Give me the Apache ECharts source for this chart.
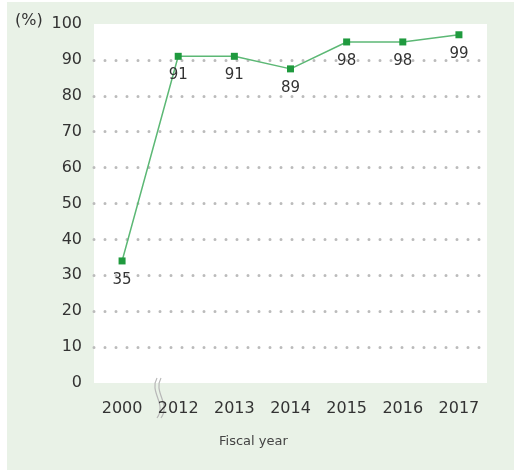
<!DOCTYPE html>
<html>
<head>
<meta charset="utf-8">
<script src="https://cdn.jsdelivr.net/npm/echarts@6/dist/echarts.min.js"></script>
<style>
  html, body { margin: 0; padding: 0; background: #fff; }
  #rate-chart { position: absolute; left: 7px; top: 2px; width: 507px; height: 468px; }
</style>
</head>
<body>
<div id="rate-chart"></div>
<script>
var rateChart = echarts.init(document.getElementById('rate-chart'));

// fiscal years shown on the x axis (gap between 2000 and 2012)
var years = ['2000', '2012', '2013', '2014', '2015', '2016', '2017'];
// where the markers sit in the picture
var plotValues = [34, 91, 91, 87.5, 95, 95, 97];
// the printed labels under each marker
var labelValues = [35, 91, 91, 89, 98, 98, 99];
var yTicks = [0, 10, 20, 30, 40, 50, 60, 70, 80, 90, 100];

var txtFont = 'DejaVu Sans';

option = {
    backgroundColor: '#e9f2e7',
    animation: false,
    grid: {
        show: true,
        left: 87,
        right: 27,
        top: 22,
        bottom: 87,
        backgroundColor: '#fff',
        borderWidth: 0
    },
    xAxis: {
        type: 'category',
        data: years,
        boundaryGap: true,
        axisLine: { show: false },
        axisTick: { show: false },
        axisLabel: {
            color: '#333',
            fontFamily: txtFont,
            fontSize: 16,
            margin: 18
        }
    },
    yAxis: {
        type: 'value',
        min: yTicks[0],
        max: yTicks[yTicks.length - 1],
        interval: 10,
        axisLine: { show: false },
        axisTick: { show: false },
        axisLabel: {
            color: '#333',
            fontFamily: txtFont,
            fontSize: 16,
            margin: 12
        },
        splitLine: {
            show: true,
            showMinLine: false,
            showMaxLine: false,
            lineStyle: {
                color: '#bbbbbb',
                width: 3,
                type: [0, 11],
                cap: 'round'
            }
        }
    },
    graphic: [
        {
            type: 'text',
            left: 8,
            top: 11,
            style: { text: '(%)', fill: '#333', font: '16px "DejaVu Sans"' }
        },
        {
            type: 'text',
            left: 212,
            top: 433,
            style: { text: 'Fiscal year', fill: '#444', font: '13px "DejaVu Sans"' }
        },
        // axis break marks between 2000 and 2012
        {
            type: 'bezierCurve',
            shape: { x1: 150, y1: 376, cpx1: 142, cpy1: 390, cpx2: 160, cpy2: 402, x2: 150, y2: 416 },
            style: { stroke: '#b8b8b8', lineWidth: 1.2, fill: null }
        },
        {
            type: 'bezierCurve',
            shape: { x1: 154, y1: 376, cpx1: 146, cpy1: 390, cpx2: 164, cpy2: 402, x2: 154, y2: 416 },
            style: { stroke: '#b8b8b8', lineWidth: 1.2, fill: null }
        }
    ],
    series: [{
        type: 'line',
        data: plotValues.map(function (v, i) {
            return { value: v, label: { formatter: String(labelValues[i]) } };
        }),
        symbol: 'rect',
        symbolSize: 7,
        lineStyle: { color: '#5cb875', width: 1.5 },
        itemStyle: { color: '#1f9a3e' },
        label: {
            show: true,
            position: 'bottom',
            distance: 8,
            color: '#333',
            fontFamily: txtFont,
            fontSize: 15
        }
    }]
};
rateChart.setOption(option);
</script>
</body>
</html>
